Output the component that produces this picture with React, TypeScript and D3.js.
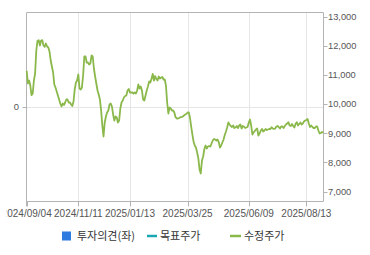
import React, { useEffect, useRef } from "react";
import * as d3 from "d3";

const prices: number[] = [
  11140, 10705, 10808, 10637, 10305, 10363, 10808, 11048, 11836, 12168,
  12188, 12007, 12178, 12188, 12007, 11962, 12075, 11972, 11938, 11801,
  11493, 11288, 11082, 10671, 10569, 10431, 10294, 10157, 10020, 9918,
  10020, 9969, 10055, 10157, 10157, 10055, 10055, 9986, 9935, 10089,
  10500, 10740, 10808, 11014, 10534, 10500, 10569, 10979, 11630, 11630,
  11425, 11425, 11356, 11390, 11664, 11630, 11219, 10945, 10705, 10466,
  10329, 10157, 9781, 9267, 8890, 9370, 9575, 9712, 9781, 9986,
  10020, 9918, 9644, 9438, 9575, 9541, 9370, 9438, 9849, 10055,
  10123, 10226, 10277, 10294, 10466, 10517, 10397, 10397, 10397, 10363,
  10397, 10363, 10466, 10671, 10534, 10603, 10466, 10157, 10123, 10294,
  10466, 10603, 10774, 10740, 10877, 11031, 10808, 10962, 10860, 10808,
  10945, 10877, 10911, 10928, 10842, 10842, 10637, 10055, 9678, 9883,
  9849, 9781, 9781, 9712, 9551, 9507, 9507, 9524, 9551, 9551,
  9575, 9609, 9644, 9661, 9712, 9712, 9541, 9233, 8959, 8719,
  8582, 8513, 8342, 8137, 7760, 7623, 8068, 8205, 8462, 8582,
  8479, 8548, 8565, 8548, 8651, 8753, 8804, 8787, 8753, 8787,
  8695, 8513, 8582, 8685, 8787, 8941, 9061, 9198, 9370, 9301,
  9250, 9216, 9267, 9181, 9198, 9250, 9181, 9267, 9301, 9164,
  9250, 9233, 9181, 9198, 9216, 9370, 9473, 9267, 8959, 9027,
  9079, 9130, 9164, 8924, 8993, 9096, 9147, 9061, 9096, 9147,
  9113, 9130, 9147, 9147, 9209, 9164, 9154, 9164, 9233, 9250,
  9209, 9164, 9233, 9233, 9181, 9250, 9301, 9336, 9381, 9267,
  9250, 9318, 9250, 9198, 9325, 9381, 9267, 9318, 9370, 9301,
  9336, 9404, 9438, 9455, 9490, 9336, 9216, 9267, 9216, 9181,
  9181, 9233, 9233, 9096, 8993, 9010, 9044, 9027,
];

const xTickIndex: number[] = [0, 43, 86, 134, 185, 233];
const xTickLabels: string[] = [
  "2024/09/04",
  "2024/11/11",
  "2025/01/13",
  "2025/03/25",
  "2025/06/09",
  "2025/08/13",
];
const rightTicks: number[] = [7000, 8000, 9000, 10000, 11000, 12000, 13000];
const leftTicks: number[] = [0];
const legendLabels: string[] = ["투자의견(좌)", "목표주가", "수정주가"];

const W = 370;
const H = 255;
const left = 26.5;
const right = 323.5;
const top = 12.5;
const bottom = 201.5;

export default function App() {
  const ref = useRef<SVGSVGElement | null>(null);

  useEffect(() => {
    const svg = d3.select(ref.current);
    svg.selectAll("*").remove();

    const x = d3.scaleLinear().domain([0, prices.length - 1]).range([left + 0.2, right - 0.3]);
    const y = d3.scaleLinear().domain([6664, 13137]).range([bottom, top]);
    const yL = d3.scaleLinear().domain([-1, 1]).range([bottom, top]);

    const tickFont = "'Liberation Sans', Arial, sans-serif";
    const axisColor = "#b4b4b4";
    const gridColor = "#e6e6e6";
    const textColor = "#555";

    svg
      .append("defs")
      .append("clipPath")
      .attr("id", "xlabclip")
      .append("rect")
      .attr("x", 6.8)
      .attr("y", 0)
      .attr("width", W)
      .attr("height", H);

    // vertical grid
    svg
      .append("g")
      .selectAll("line")
      .data(xTickIndex.slice(1))
      .join("line")
      .attr("x1", (d) => Math.round(x(d)) + 0.5)
      .attr("x2", (d) => Math.round(x(d)) + 0.5)
      .attr("y1", top)
      .attr("y2", bottom)
      .attr("stroke", gridColor)
      .attr("stroke-width", 1);

    // horizontal grid (left axis)
    svg
      .append("g")
      .selectAll("line")
      .data(leftTicks)
      .join("line")
      .attr("x1", left)
      .attr("x2", right)
      .attr("y1", (d) => Math.round(yL(d)) + 0.5)
      .attr("y2", (d) => Math.round(yL(d)) + 0.5)
      .attr("stroke", gridColor);

    // frame
    const frame = svg.append("g").attr("stroke", axisColor).attr("fill", "none");
    frame.append("line").attr("x1", left).attr("x2", right).attr("y1", top).attr("y2", top);
    frame.append("line").attr("x1", left).attr("x2", right).attr("y1", bottom).attr("y2", bottom);
    frame.append("line").attr("x1", left).attr("x2", left).attr("y1", top).attr("y2", bottom + 5);
    frame.append("line").attr("x1", right).attr("x2", right).attr("y1", top).attr("y2", bottom);

    // bottom axis ticks
    const xg = svg.append("g");
    xg.selectAll("line")
      .data(xTickIndex)
      .join("line")
      .attr("x1", (d) => Math.round(x(d)) + 0.5)
      .attr("x2", (d) => Math.round(x(d)) + 0.5)
      .attr("y1", bottom)
      .attr("y2", bottom + 5)
      .attr("stroke", axisColor);
    xg.append("g")
      .attr("clip-path", "url(#xlabclip)")
      .selectAll("text")
      .data(xTickIndex)
      .join("text")
      .attr("x", (d) => x(d))
      .attr("y", 216.5)
      .attr("text-anchor", "middle")
      .attr("font-family", tickFont)
      .attr("font-size", 10)
      .attr("fill", textColor)
      .text((_d, i) => xTickLabels[i]);

    // right axis
    const rg = svg.append("g");
    rg.selectAll("line")
      .data(rightTicks)
      .join("line")
      .attr("x1", right)
      .attr("x2", right + 4)
      .attr("y1", (d) => Math.round(y(d)) + 0.5)
      .attr("y2", (d) => Math.round(y(d)) + 0.5)
      .attr("stroke", axisColor);
    rg.selectAll("text")
      .data(rightTicks)
      .join("text")
      .attr("x", right + 4.5)
      .attr("y", (d) => y(d) + 3.4)
      .attr("font-family", tickFont)
      .attr("font-size", 9.3)
      .attr("fill", textColor)
      .text((d) => d3.format(",")(d));

    // left axis
    const lg = svg.append("g");
    lg.selectAll("line")
      .data(leftTicks)
      .join("line")
      .attr("x1", left - 4)
      .attr("x2", left)
      .attr("y1", (d) => Math.round(yL(d)) + 0.5)
      .attr("y2", (d) => Math.round(yL(d)) + 0.5)
      .attr("stroke", axisColor);
    lg.selectAll("text")
      .data(leftTicks)
      .join("text")
      .attr("x", 19)
      .attr("y", (d) => yL(d) + 3.4)
      .attr("text-anchor", "end")
      .attr("font-family", tickFont)
      .attr("font-size", 9.3)
      .attr("fill", textColor)
      .text((d) => String(d));

    // price line
    const line = d3
      .line<number>()
      .x((_d, i) => x(i))
      .y((d) => y(d));
    svg
      .append("path")
      .datum(prices)
      .attr("d", line)
      .attr("fill", "none")
      .attr("stroke", "#8ab84a")
      .attr("stroke-width", 1.8)
      .attr("stroke-linejoin", "round");

    // legend
    const legFont = "'Noto Sans CJK KR', 'Noto Sans', sans-serif";
    const leg = svg.append("g");
    const ly = 236;
    leg.append("rect").attr("x", 62).attr("y", ly - 4.5).attr("width", 9).attr("height", 9).attr("fill", "#2f7be0");
    leg.append("text").attr("x", 77).attr("y", ly + 4).attr("font-family", legFont).attr("font-size", 11).attr("fill", "#333").text(legendLabels[0]);
    leg.append("line").attr("x1", 147).attr("x2", 157).attr("y1", ly).attr("y2", ly).attr("stroke", "#1ba6b3").attr("stroke-width", 2.5);
    leg.append("text").attr("x", 160).attr("y", ly + 4).attr("font-family", legFont).attr("font-size", 11).attr("fill", "#333").text(legendLabels[1]);
    leg.append("line").attr("x1", 230).attr("x2", 241).attr("y1", ly).attr("y2", ly).attr("stroke", "#8ab84a").attr("stroke-width", 2.5);
    leg.append("text").attr("x", 244).attr("y", ly + 4).attr("font-family", legFont).attr("font-size", 11).attr("fill", "#333").text(legendLabels[2]);
  }, []);

  return (
    <svg
      ref={ref}
      width={W}
      height={H}
      style={{ position: "absolute", left: 0, top: 0, background: "#fff" }}
    />
  );
}
